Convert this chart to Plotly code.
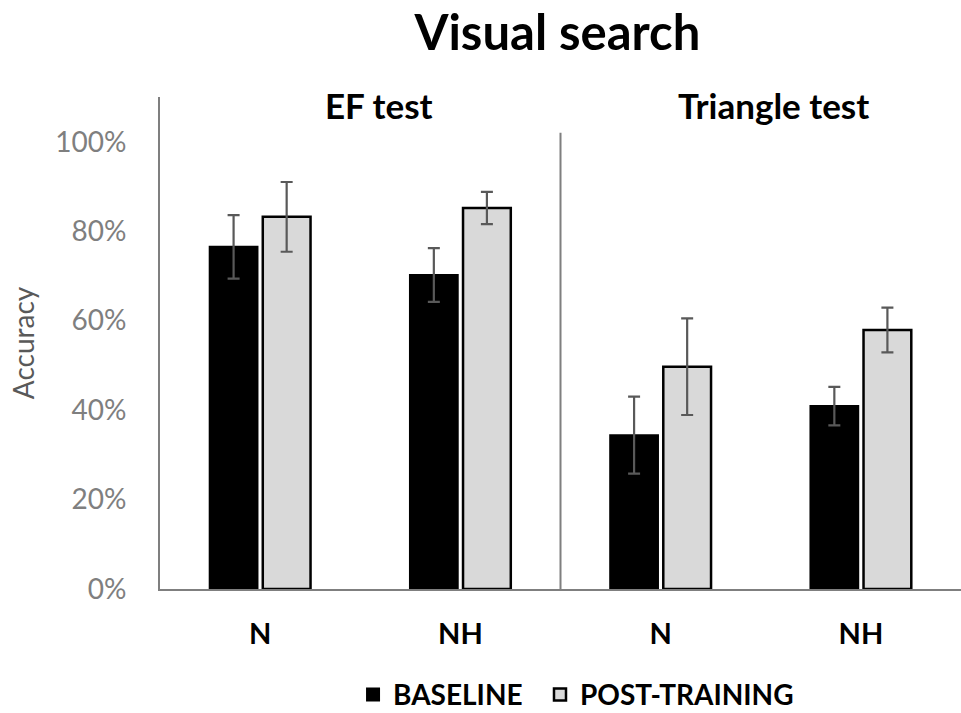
import plotly.graph_objects as go

# ---- data ----
categories = ["N", "NH", "N", "NH"]
tests = ["EF test", "EF test", "Triangle test", "Triangle test"]
baseline = [76.5, 70.2, 34.4, 40.9]
baseline_err = [7.1, 6.0, 8.6, 4.3]
post_training = [83.2, 85.2, 49.7, 57.9]
post_training_err = [7.8, 3.6, 10.8, 5.0]
y_tickvals = [0, 20, 40, 60, 80, 100]
y_ticktext = ["0%", "20%", "40%", "60%", "80%", "100%"]

x_pos = list(range(len(categories)))

FONT = "Lato, 'Open Sans', sans-serif"

fig = go.Figure()
fig.add_trace(go.Bar(
    x=x_pos, y=baseline, name="<b>BASELINE</b>", legend="legend",
    marker=dict(color="#000000", line=dict(color="#000000", width=2)),
    error_y=dict(type="data", array=baseline_err, color="#595959", thickness=2.2, width=6),
))
fig.add_trace(go.Bar(
    x=x_pos, y=post_training, name="<b>POST-TRAINING</b>", legend="legend2",
    marker=dict(color="#d9d9d9", line=dict(color="#000000", width=2.5)),
    error_y=dict(type="data", array=post_training_err, color="#595959", thickness=2.2, width=6),
))

# test group labels
group_names = []
for t in tests:
    if t not in group_names:
        group_names.append(t)
group_shift = {"EF test": 19, "Triangle test": 13}
for g in group_names:
    xs = [x for x, t in zip(x_pos, tests) if t == g]
    fig.add_annotation(x=sum(xs) / len(xs), xref="x", y=0.984, yref="paper",
                       text=f"<b>{g}</b>", showarrow=False, xshift=group_shift[g],
                       yanchor="middle", font=dict(family=FONT, size=35, color="#000000"))

# divider between tests
split = [i for i in range(1, len(tests)) if tests[i] != tests[i - 1]][0]
fig.add_shape(type="line", xref="x", yref="y", x0=split - 0.5, x1=split - 0.5,
              y0=0, y1=102, line=dict(color="#7f7f7f", width=2))

legend_style = dict(orientation="h", xanchor="left", y=-0.215, yanchor="middle",
                    font=dict(family=FONT, size=28, color="#000000"), itemwidth=30)

fig.update_layout(
    width=961, height=713,
    paper_bgcolor="white", plot_bgcolor="white",
    margin=dict(l=160, r=0, t=97, b=124, autoexpand=False),
    barmode="group", bargap=0.47, bargroupgap=0.1,
    title=dict(text="<b>Visual search</b>", x=0.58, xanchor="center",
               y=1 - 33 / 713, yanchor="middle", yref="container",
               font=dict(family=FONT, size=49, color="#000000")),
    showlegend=True,
    legend=dict(x=0.241, **legend_style),
    legend2=dict(x=0.4744, **legend_style),
    xaxis=dict(range=[-0.5, len(categories) - 0.5], tickvals=x_pos,
               ticktext=[f"<b>{c}</b>" for c in categories],
               tickfont=dict(family=FONT, size=29, color="#000000"),
               showline=True, linecolor="#7f7f7f", linewidth=2, automargin=False,
               showgrid=False, zeroline=False, ticks="", ticklabelstandoff=18),
    yaxis=dict(range=[0, 110], tickvals=y_tickvals, ticktext=y_ticktext,
               tickfont=dict(family=FONT, size=28, color="#7f7f7f"),
               showline=True, linecolor="#7f7f7f", linewidth=2, automargin=False,
               showgrid=False, zeroline=False, ticks="", ticklabelstandoff=26,
               title=dict(text="Accuracy", standoff=12,
                          font=dict(family=FONT, size=28, color="#595959"))),
)

fig.write_html("out.html", config={"displayModeBar": False},
               post_script="document.body.style.margin='0';")
